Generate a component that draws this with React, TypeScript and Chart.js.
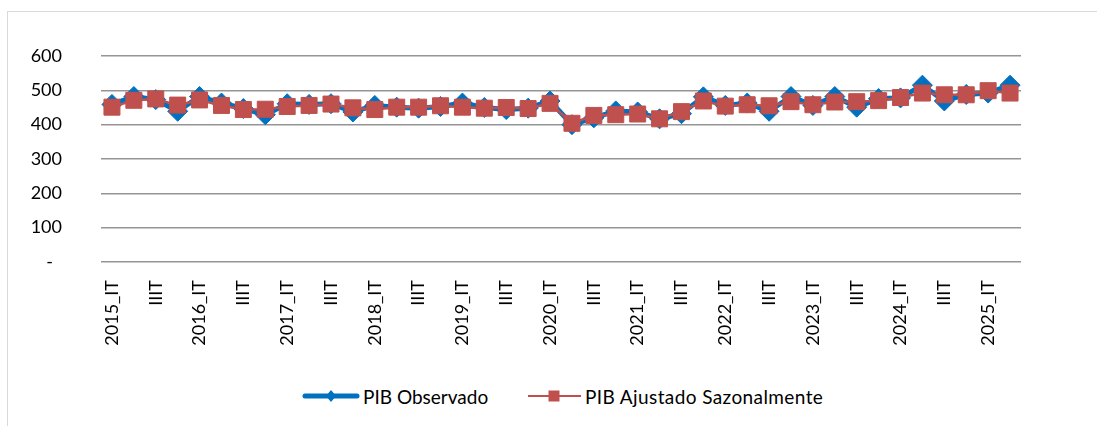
import React, { useEffect, useRef } from "react";
import { Chart, registerables } from "chart.js";

Chart.register(...registerables);

const categories: string[] = [
  "2015_IT", "IIT", "IIIT", "IVT",
  "2016_IT", "IIT", "IIIT", "IVT",
  "2017_IT", "IIT", "IIIT", "IVT",
  "2018_IT", "IIT", "IIIT", "IVT",
  "2019_IT", "IIT", "IIIT", "IVT",
  "2020_IT", "IIT", "IIIT", "IVT",
  "2021_IT", "IIT", "IIIT", "IVT",
  "2022_IT", "IIT", "IIIT", "IVT",
  "2023_IT", "IIT", "IIIT", "IVT",
  "2024_IT", "IIT", "IIIT", "IVT",
  "2025_IT", "IIT",
];

const pibObservado: number[] = [
  459, 482, 473, 439,
  482, 463, 447, 429,
  461, 459, 461, 437,
  456, 451, 448, 453,
  463, 450, 444, 448,
  469, 400, 420, 440,
  437, 417, 432, 481,
  456, 463, 439, 482,
  456, 482, 451, 476,
  478, 515, 469, 488,
  492, 515,
];

const pibAjustado: number[] = [
  451, 471, 475, 457,
  472, 456, 444, 445,
  453, 456, 460, 449,
  444, 451, 451, 455,
  451, 448, 450, 447,
  462, 404, 427, 429,
  431, 417, 438, 469,
  454, 458, 455, 467,
  458, 466, 467, 470,
  479, 492, 487, 487,
  499, 492,
];

const yTicks: number[] = [0, 100, 200, 300, 400, 500, 600];

const seriesNames = ["PIB Observado", "PIB Ajustado Sazonalmente"];
const BLUE = "#0070C0";
const RED = "#C0504D";
const FONT = "Lato, 'Noto Sans', sans-serif";

export default function App() {
  const canvasRef = useRef<HTMLCanvasElement | null>(null);

  useEffect(() => {
    const canvas = canvasRef.current;
    if (!canvas) return;
    const chart = new Chart(canvas, {
      type: "line",
      data: {
        labels: categories,
        datasets: [
          {
            label: seriesNames[0],
            data: pibObservado,
            borderColor: BLUE,
            backgroundColor: BLUE,
            borderWidth: 5,
            pointStyle: "rectRot",
            pointRadius: 10,
            pointHoverRadius: 10,
            pointBorderWidth: 1,
            tension: 0,
            order: 1,
          },
          {
            label: seriesNames[1],
            data: pibAjustado,
            borderColor: RED,
            backgroundColor: RED,
            borderWidth: 2.5,
            pointStyle: "rect",
            pointRadius: 11.3,
            pointHoverRadius: 11.3,
            pointBorderWidth: 1,
            tension: 0,
            order: 0,
          },
        ],
      },
      options: {
        animation: false,
        responsive: true,
        maintainAspectRatio: false,
        layout: { padding: { top: 44, right: 76, bottom: 0, left: 0 } },
        plugins: {
          legend: { display: false },
          tooltip: { enabled: false },
          title: { display: false },
        },
        scales: {
          x: {
            type: "category",
            offset: true,
            grid: { display: false },
            border: { display: false },
            ticks: {
              autoSkip: false,
              maxRotation: 90,
              minRotation: 90,
              padding: 10,
              color: "#000",
              font: { family: FONT, size: 18 },
              callback: (_v: any, i: number) => (i % 2 === 0 ? categories[i] : ""),
            },
            afterFit: (s: any) => {
              s.height = 100;
            },
          },
          y: {
            min: yTicks[0],
            max: yTicks[yTicks.length - 1],
            afterBuildTicks: (s: any) => {
              s.ticks = yTicks.map((v) => ({ value: v }));
            },
            grid: { color: "#959595", lineWidth: 1.5, drawTicks: false },
            border: { display: false },
            ticks: {
              padding: 39,
              color: "#000",
              font: { family: FONT, size: 18 },
              callback: (v: any) => (Number(v) === 0 ? "-\u2002" : String(v)),
            },
            afterFit: (s: any) => {
              s.width = 93;
              s.paddingTop = 0;
              s.paddingBottom = 0;
            },
          },
        },
      },
    });
    return () => chart.destroy();
  }, []);

  return (
    <div
      style={{
        position: "fixed",
        left: 0,
        top: 0,
        width: 1097,
        height: 426,
        overflow: "hidden",
        background: "#fff",
        fontFamily: FONT,
      }}
    >
      <div
        style={{
          position: "absolute",
          left: 7,
          top: 11,
          width: 1300,
          height: 600,
          borderLeft: "1px solid #d9d9d9",
          borderTop: "1px solid #d9d9d9",
        }}
      />
      <div style={{ position: "absolute", left: 8, top: 12, width: 1089, height: 350 }}>
        <canvas ref={canvasRef} />
      </div>
      <div
        style={{
          position: "absolute",
          left: 302,
          top: 386,
          height: 20,
          display: "flex",
          alignItems: "center",
          fontSize: 19,
          color: "#000",
          whiteSpace: "nowrap",
        }}
      >
        <svg width={58} height={20} style={{ marginRight: 3 }}>
          <line x1={3} y1={10} x2={55} y2={10} stroke={BLUE} strokeWidth={5} strokeLinecap="round" />
          <polygon points="29,4 34,10 29,16 24,10" fill={BLUE} />
        </svg>
        <span>{seriesNames[0]}</span>
      </div>
      <div
        style={{
          position: "absolute",
          left: 528,
          top: 386,
          height: 20,
          display: "flex",
          alignItems: "center",
          fontSize: 19,
          color: "#000",
          whiteSpace: "nowrap",
        }}
      >
        <svg width={54} height={20} style={{ marginRight: 3 }}>
          <line x1={0} y1={10} x2={53} y2={10} stroke={RED} strokeWidth={2} />
          <rect x={20.5} y={4.5} width={11} height={11} fill={RED} />
        </svg>
        <span style={{ letterSpacing: 0.4 }}>{seriesNames[1]}</span>
      </div>
    </div>
  );
}
